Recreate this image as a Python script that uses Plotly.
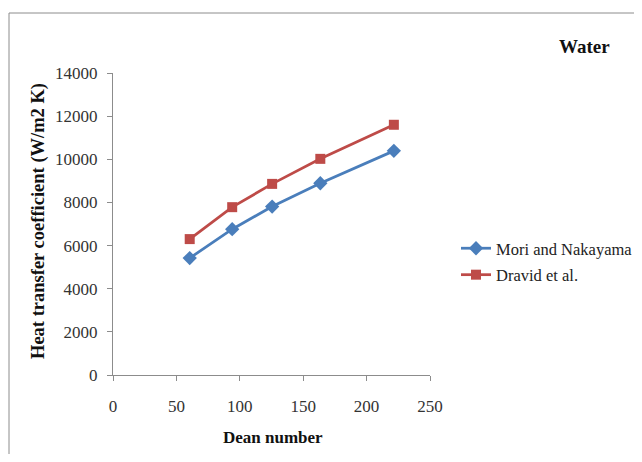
import plotly.graph_objects as go

dean = [60.5, 94, 125.5, 163.5, 221.5]
mori = [5420, 6760, 7810, 8890, 10390]
dravid = [6300, 7780, 8860, 10020, 11600]
series_names = ["Mori and Nakayama", "Dravid et al."]
y_ticks = [0, 2000, 4000, 6000, 8000, 10000, 12000, 14000]
x_ticks = [0, 50, 100, 150, 200, 250]

FONT = "Liberation Serif"
AX = "#8c8c8c"
# page offset of the plot area (body margin 8px is included)
L, T, PW, PH = 113, 73, 317, 302
B = T + PH  # page y of the x axis
W, H = 642, 446


def px(xp):
    return (xp - L) / PW


def py(yp):
    return (B - yp) / PH


fig = go.Figure()
fig.add_trace(go.Scatter(x=dean, y=mori, mode="lines+markers", name=series_names[0],
                         legendgroup="a",
                         line=dict(color="#4a7ebb", width=2.75),
                         marker=dict(symbol="diamond", size=11, color="#4a7ebb")))
fig.add_trace(go.Scatter(x=dean, y=dravid, mode="lines+markers", name=series_names[1],
                         legendgroup="b",
                         line=dict(color="#be4b48", width=2.75),
                         marker=dict(symbol="square", size=10, color="#be4b48")))

fig.update_layout(
    width=W, height=H,
    margin=dict(l=L - 8, r=W - (L - 8) - PW, t=T - 8, b=H - (T - 8) - PH, autoexpand=False),
    paper_bgcolor="white", plot_bgcolor="white",
    font=dict(family=FONT, size=17, color="#222"),
    showlegend=True,
    legend=dict(x=px(456), y=py(231), xanchor="left", yanchor="top",
                traceorder="grouped", tracegroupgap=2,
                font=dict(family=FONT, size=16.5, color="#222"),
                bgcolor="rgba(0,0,0,0)", itemwidth=30),
    xaxis=dict(range=[0, 250], tickvals=x_ticks, tickformat="d",
               showgrid=False, zeroline=False, showline=True, linecolor=AX, linewidth=1,
               ticks="outside", ticklen=5, tickcolor=AX,
               tickfont=dict(family=FONT, size=17, color="#333"),
               ticklabelstandoff=11),
    yaxis=dict(range=[0, 14000], tickvals=y_ticks, tickformat="d",
               showgrid=False, zeroline=False, showline=True, linecolor=AX, linewidth=1,
               ticks="outside", ticklen=5, tickcolor=AX,
               tickfont=dict(family=FONT, size=17, color="#333"),
               ticklabelstandoff=6),
    annotations=[
        dict(text="<b>Water</b>", xref="paper", yref="paper", x=px(584), y=py(46),
             xanchor="center", yanchor="middle", showarrow=False,
             font=dict(family=FONT, size=19, color="#111")),
        dict(text="<b>Dean number</b>", xref="paper", yref="paper", x=px(273), y=py(437),
             xanchor="center", yanchor="middle", showarrow=False,
             font=dict(family=FONT, size=17, color="#111")),
        dict(text="<b>Heat transfer coefficient (W/m2 K)</b>", xref="paper", yref="paper",
             x=px(39), y=py(221), textangle=-90,
             xanchor="center", yanchor="middle", showarrow=False,
             font=dict(family=FONT, size=18.5, color="#111")),
    ],
    shapes=[dict(type="rect", xref="paper", yref="paper",
                 x0=px(9), x1=px(700), y0=py(520), y1=py(13),
                 line=dict(color="#8c8c8c", width=1), layer="below")],
)

fig.write_html("out.html")
